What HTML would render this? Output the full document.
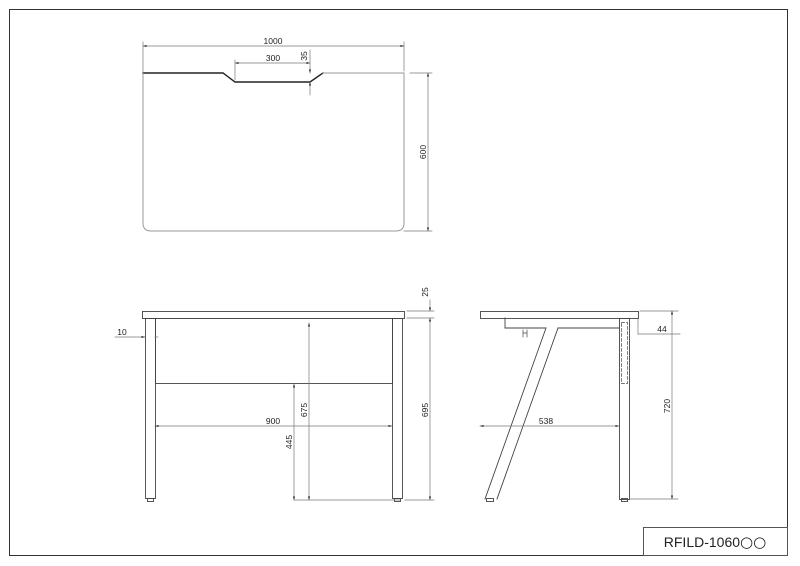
<!DOCTYPE html>
<html><head><style>
html,body{margin:0;padding:0;background:#fff;}
svg{display:block;}
text{font-family:"Liberation Sans",sans-serif;fill:#222;}
</style></head><body>
<svg width="800" height="566" viewBox="0 0 800 566" xmlns="http://www.w3.org/2000/svg">
<defs>
<marker id="a" viewBox="0 0 10 10" refX="10" refY="5" markerWidth="5" markerHeight="5" orient="auto-start-reverse"><path d="M0,2 L10,5 L0,8z" fill="#222"/></marker>
</defs>
<rect x="0" y="0" width="800" height="566" fill="#fff"/>
<rect x="9.5" y="9.5" width="778" height="546" fill="none" stroke="#333" stroke-width="1"/>
<rect x="643.5" y="527.5" width="144" height="28" fill="none" stroke="#555" stroke-width="1"/>
<text x="715" y="547" font-size="14" text-anchor="middle">RFILD-1060<tspan font-family="DejaVu Sans" font-size="15">○○</tspan></text>

<g fill="none" stroke-linecap="square">
<path d="M143,73 L223,73 L235,82 L310,82 L323,73" stroke="#222" stroke-width="1.4"/>
<path d="M323,73 L404,73 L404,223 Q404,231 396,231 L151,231 Q143,231 143,223 L143,73" stroke="#999" stroke-width="1"/>
<g stroke="#777" stroke-width="0.7">
<line x1="143" y1="42" x2="143" y2="73"/><line x1="404" y1="42" x2="404" y2="71"/>
<line x1="143" y1="46" x2="404" y2="46" marker-start="url(#a)" marker-end="url(#a)"/>
<line x1="235" y1="60" x2="235" y2="80"/>
<line x1="235" y1="63" x2="310" y2="63" marker-start="url(#a)" marker-end="url(#a)"/>
<line x1="310" y1="50" x2="310" y2="73" marker-end="url(#a)"/>
<line x1="310" y1="95" x2="310" y2="82" marker-end="url(#a)"/>
<line x1="410" y1="73" x2="432" y2="73"/><line x1="404" y1="231" x2="432" y2="231"/>
<line x1="428" y1="73" x2="428" y2="231" marker-start="url(#a)" marker-end="url(#a)"/>
</g>

<g stroke="#444" stroke-width="0.9">
<rect x="142.5" y="311.5" width="262" height="7"/>
<rect x="145.5" y="318.5" width="10" height="180"/>
<rect x="392.5" y="318.5" width="10" height="180"/>
<rect x="155.5" y="318.5" width="237" height="65"/>
<rect x="147.5" y="498.5" width="6" height="3"/>
<rect x="394.5" y="498.5" width="6" height="3"/>
</g>
<g stroke="#777" stroke-width="0.7">
<line x1="115" y1="337" x2="145" y2="337" marker-end="url(#a)"/>
<line x1="158" y1="337" x2="155" y2="337"/>
<line x1="309" y1="323" x2="309" y2="500" marker-start="url(#a)" marker-end="url(#a)"/>
<line x1="294" y1="384" x2="294" y2="500" marker-start="url(#a)" marker-end="url(#a)"/>
<line x1="155" y1="426" x2="392" y2="426" marker-start="url(#a)" marker-end="url(#a)"/>
<line x1="294" y1="500" x2="400" y2="500"/>
<line x1="407" y1="311" x2="434" y2="311"/><line x1="407" y1="318" x2="434" y2="318"/><line x1="405" y1="500" x2="434" y2="500"/>
<line x1="430" y1="300" x2="430" y2="311" marker-end="url(#a)"/>
<line x1="430" y1="318" x2="430" y2="500" marker-start="url(#a)" marker-end="url(#a)"/>
</g>

<g stroke="#444" stroke-width="0.9">
<rect x="480.5" y="311.5" width="158" height="7"/>
<rect x="619.5" y="318.5" width="10" height="181"/>
<path d="M505,318 L505,328 L546,328 L485,499"/>
<path d="M558,328 L619,328"/>
<path d="M558,328 L497,499"/>
<rect x="486.5" y="498.5" width="7" height="3"/>
<rect x="621.5" y="498.5" width="6" height="3"/>
<path d="M523,330 L523,337 M527,330 L527,337 M523,333 L527,333" stroke-width="0.7"/>
<rect x="621.5" y="322.5" width="6" height="61" stroke-dasharray="3,2" stroke-width="0.7"/>
</g>
<g stroke="#777" stroke-width="0.7">
<line x1="480" y1="426" x2="619" y2="426" marker-start="url(#a)" marker-end="url(#a)"/>
<line x1="640" y1="311" x2="678" y2="311"/><line x1="630" y1="499" x2="678" y2="499"/>
<line x1="672" y1="311" x2="672" y2="499" marker-start="url(#a)" marker-end="url(#a)"/>
<line x1="638" y1="318" x2="638" y2="334"/>
<line x1="638" y1="334" x2="680" y2="334"/>
</g>
</g>

<g font-size="8.5">
<text x="273" y="44" text-anchor="middle">1000</text>
<text x="273" y="61" text-anchor="middle">300</text>
<text transform="translate(307,56) rotate(-90)" text-anchor="middle">35</text>
<text transform="translate(426,152) rotate(-90)" text-anchor="middle">600</text>
<text x="122" y="335" text-anchor="middle">10</text>
<text x="273" y="424" text-anchor="middle">900</text>
<text transform="translate(307,410) rotate(-90)" text-anchor="middle">675</text>
<text transform="translate(292,442) rotate(-90)" text-anchor="middle">445</text>
<text transform="translate(428,410) rotate(-90)" text-anchor="middle">695</text>
<text transform="translate(428,292) rotate(-90)" text-anchor="middle">25</text>
<text x="546" y="424" text-anchor="middle">538</text>
<text x="662" y="332" text-anchor="middle">44</text>
<text transform="translate(670,406) rotate(-90)" text-anchor="middle">720</text>
</g>
</svg>
</body></html>
